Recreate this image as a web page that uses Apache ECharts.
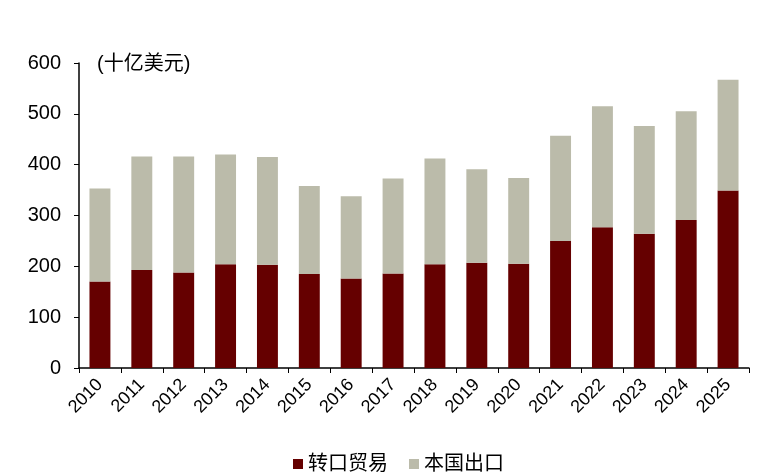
<!DOCTYPE html>
<html>
<head>
<meta charset="utf-8">
<script src="https://cdn.jsdelivr.net/npm/echarts@6/dist/echarts.min.js"></script>
<style>
  html, body { margin: 0; padding: 0; background: #fff; }
  #main { width: 783px; height: 474px; }
</style>
</head>
<body>
<div id="main"></div>
<script>
var years = ['2010', '2011', '2012', '2013', '2014', '2015', '2016', '2017',
    '2018', '2019', '2020', '2021', '2022', '2023', '2024', '2025'];
// re-exports (bottom, dark red)
var reExport = [170, 193, 188, 204, 203, 185, 176, 186, 204, 207, 205, 250, 277, 264, 291, 349];
// domestic exports (top, grey)
var domestic = [183, 223, 228, 216, 212, 173, 162, 187, 208, 184, 169, 207, 238, 212, 214, 218];
var yTicks = [0, 100, 200, 300, 400, 500, 600];

var myChart = echarts.init(document.getElementById('main'));
var font = 'Liberation Sans, Arial, Noto Sans CJK SC, sans-serif';

var option = {
    animation: false,
    textStyle: { fontFamily: font },
    grid: { left: 79, right: 34, top: 63, bottom: 106, containLabel: false },
    legend: {
        top: 449,
        left: 288,
        itemWidth: 10,
        itemHeight: 10,
        itemGap: 21,
        icon: 'rect',
        textStyle: { color: '#000', fontSize: 20, fontFamily: font },
        data: ['转口贸易', '本国出口']
    },
    graphic: [{
        type: 'text',
        left: 97,
        top: 54,
        style: { text: '(十亿美元)', fill: '#000', fontSize: 20, fontFamily: font }
    }],
    xAxis: {
        type: 'category',
        data: years,
        axisLine: { lineStyle: { color: '#000', width: 1.5 } },
        axisTick: { show: true, length: 5, lineStyle: { color: '#000' } },
        axisLabel: { rotate: 45, color: '#000', fontSize: 18, margin: 14, interval: 0 }
    },
    yAxis: {
        type: 'value',
        min: yTicks[0],
        max: yTicks[yTicks.length - 1],
        interval: 100,
        splitLine: { show: false },
        axisLine: { show: true, lineStyle: { color: '#000', width: 1.5 } },
        axisTick: { show: true, length: 5, lineStyle: { color: '#000' } },
        axisLabel: { color: '#000', fontSize: 20, margin: 18 }
    },
    series: [
        {
            name: '转口贸易',
            type: 'bar',
            stack: 'total',
            barWidth: '50%',
            itemStyle: { color: '#650000' },
            data: reExport
        },
        {
            name: '本国出口',
            type: 'bar',
            stack: 'total',
            barWidth: '50%',
            itemStyle: { color: '#BBBBAA' },
            data: domestic
        }
    ]
};

option && myChart.setOption(option);
</script>
</body>
</html>
